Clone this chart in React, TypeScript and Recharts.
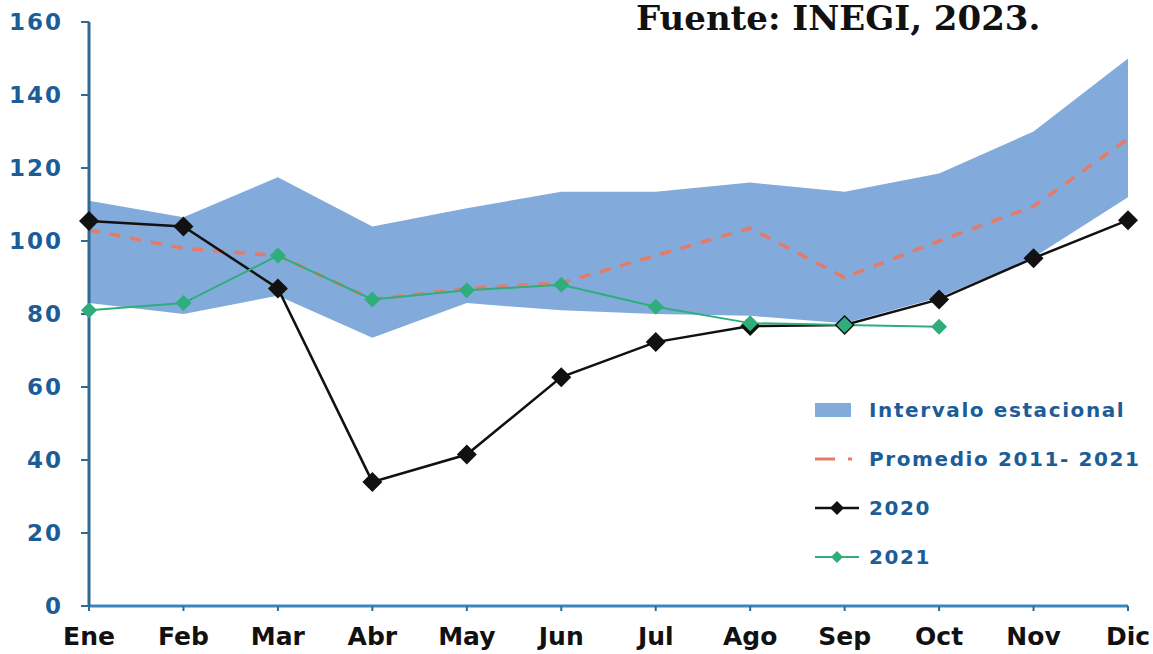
import React from "react"
import {
  ComposedChart,
  Area,
  Line,
  XAxis,
  YAxis,
  Legend
} from "recharts"

const meses = ["Ene", "Feb", "Mar", "Abr", "May", "Jun", "Jul", "Ago", "Sep", "Oct", "Nov", "Dic"]
const intervaloBajo = [83, 80, 85, 73.5, 83, 81, 80, 79.5, 77.5, 84.5, 95.5, 112]
const intervaloAlto = [111, 106.5, 117.5, 104, 109, 113.5, 113.5, 116, 113.5, 118.5, 130, 150]
const promedio = [103, 98, 96, 84, 87, 88.5, 96, 103.5, 90, 100, 109.5, 128]
const serie2020 = [105.5, 104, 87, 34, 41.5, 62.7, 72.3, 76.7, 77, 84, 95.3, 105.7]
const serie2021: (number | null)[] = [81, 83, 96, 84, 86.5, 88, 82, 77.5, 77, 76.5, null, null]
const yTicks = [0, 20, 40, 60, 80, 100, 120, 140, 160]

const chartData = meses.map((mes, i) => ({
  mes,
  intervalo: [intervaloBajo[i], intervaloAlto[i]],
  promedio: promedio[i],
  y2020: serie2020[i],
  y2021: serie2021[i]
}))

const BAND = "#82abdb"
const RED = "#e57a66"
const BLACK = "#111111"
const GREEN = "#2fae7c"
const BLUE_TEXT = "#1c5d98"
const AXIS = "#2f6a92"

function diamond(size: number, fill: string) {
  return (props: any) => {
    const { cx, cy, index } = props
    if (cx == null || cy == null || props.value == null) return <g key={index} />
    return (
      <path
        key={index}
        d={`M${cx},${cy - size} L${cx + size},${cy} L${cx},${cy + size} L${cx - size},${cy} Z`}
        fill={fill}
      />
    )
  }
}

function LegendBox() {
  const row = { display: "flex", alignItems: "center", height: 49 }
  const text = {
    color: BLUE_TEXT,
    fontFamily: "DejaVu Sans",
    fontWeight: 700,
    fontSize: 20,
    letterSpacing: 1.6,
    marginLeft: 8,
    whiteSpace: "nowrap" as const
  }
  return (
    <div style={{ fontFamily: "DejaVu Sans" }}>
      <div style={row}>
        <svg width={46} height={20}><rect x={0} y={3} width={36} height={14} fill={BAND} /></svg>
        <span style={text}>Intervalo estacional</span>
      </div>
      <div style={row}>
        <svg width={46} height={20}>
          <line x1={0} y1={10} x2={20} y2={10} stroke={RED} strokeWidth={3} />
          <line x1={33} y1={10} x2={37} y2={10} stroke={RED} strokeWidth={3} />
        </svg>
        <span style={text}>Promedio 2011- 2021</span>
      </div>
      <div style={row}>
        <svg width={46} height={20}>
          <line x1={0} y1={10} x2={44} y2={10} stroke={BLACK} strokeWidth={2.5} />
          <path d="M22,3 L29,10 L22,17 L15,10 Z" fill={BLACK} />
        </svg>
        <span style={text}>2020</span>
      </div>
      <div style={row}>
        <svg width={46} height={20}>
          <line x1={0} y1={10} x2={44} y2={10} stroke={GREEN} strokeWidth={2} />
          <path d="M22,4 L28,10 L22,16 L16,10 Z" fill={GREEN} />
        </svg>
        <span style={text}>2021</span>
      </div>
    </div>
  )
}

export default function App() {
  return (
    <div style={{ position: "absolute", left: 0, top: 0, width: 1153, height: 654, background: "#fff" }}>
      <div
        style={{
          position: "absolute",
          left: 636,
          top: 0,
          fontFamily: "DejaVu Serif",
          fontWeight: 700,
          fontSize: 34,
          lineHeight: "36px",
          color: "#111",
          whiteSpace: "nowrap",
          zIndex: 2
        }}
      >
        Fuente: INEGI, 2023.
      </div>

      <ComposedChart
        width={1153}
        height={654}
        data={chartData}
        margin={{ top: 22, right: 25, left: 0, bottom: 0 }}
      >
        <XAxis
          dataKey="mes"
          height={48}
          tickSize={5}
          tickMargin={16}
          axisLine={{ stroke: "#3a85bd", strokeWidth: 3 }}
          tickLine={{ stroke: AXIS, strokeWidth: 2 }}
          tick={{ fill: "#111", fontSize: 25, fontWeight: 700, fontFamily: "DejaVu Sans" }}
          interval={0}
        />

        <YAxis
          width={89}
          domain={[0, 160]}
          ticks={yTicks}
          tickSize={8}
          tickMargin={18}
          axisLine={{ stroke: AXIS, strokeWidth: 3 }}
          tickLine={{ stroke: AXIS, strokeWidth: 2 }}
          tick={{ fill: BLUE_TEXT, fontSize: 23, fontWeight: 700, fontFamily: "DejaVu Sans", letterSpacing: 2 }}
        />

        <Area
          dataKey="intervalo"
          type="linear"
          stroke="none"
          fill={BAND}
          fillOpacity={1}
          isAnimationActive={false}
        />

        <Line
          dataKey="promedio"
          type="linear"
          stroke={RED}
          strokeWidth={3.5}
          strokeDasharray="11 10"
          dot={false}
          isAnimationActive={false}
        />

        <Line
          dataKey="y2020"
          type="linear"
          stroke={BLACK}
          strokeWidth={2.5}
          dot={diamond(10, BLACK)}
          isAnimationActive={false}
        />

        <Line
          dataKey="y2021"
          type="linear"
          stroke={GREEN}
          strokeWidth={2}
          dot={diamond(8, GREEN)}
          connectNulls={false}
          isAnimationActive={false}
        />

        <Legend
          layout="vertical"
          align="center"
          verticalAlign="middle"
          content={() => <LegendBox />}
          wrapperStyle={{ left: 815, top: 385, width: 338 }}
        />
      </ComposedChart>
    </div>
  )
}
